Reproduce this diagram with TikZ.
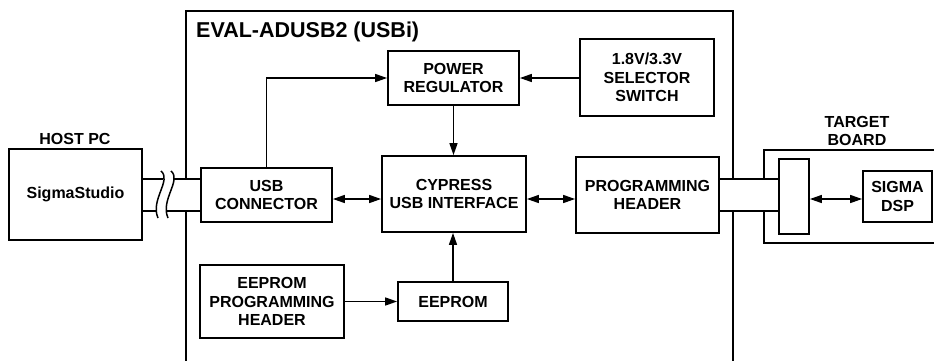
\documentclass[tikz,border=0pt]{standalone}
\usepackage{fontspec}
\setmainfont{Liberation Sans}
\usetikzlibrary{arrows.meta}
\tikzset{
  blk/.style={draw, line width=1.8pt, inner sep=0pt, align=center, font=\bfseries\fontsize{16}{18.5}\selectfont},
  lbl/.style={inner sep=0pt, align=center, font=\bfseries\fontsize{16}{18.5}\selectfont},
  conn/.style={line width=1.5pt},
  arr/.style={conn, -{Triangle[length=12pt,width=8pt]}},
  darr/.style={conn, {Triangle[length=12pt,width=8pt]}-{Triangle[length=12pt,width=8pt]}},
  frame/.style={line width=1.8pt},
  wave/.style={line width=1.5pt}
}
\begin{document}
\begin{tikzpicture}[x=1pt,y=-1pt]
\useasboundingbox (0,0) rectangle (934,360);
% frames
\draw[frame] (186,362) -- (186,11) -- (733,11) -- (733,362);
\draw[frame] (936,150) -- (764,150) -- (764,243) -- (936,243);
\node[lbl, anchor=north west, font=\bfseries\fontsize{21.5}{24}\selectfont] (title) at (196,22) {EVAL-ADUSB2 (USBi)};
\node[lbl] (hostlbl) at (75,139) {HOST PC};
\node[lbl] (targetlbl) at (857,131) {TARGET\\BOARD};
% blocks
\node[blk, minimum width=133pt, minimum height=91pt] (host) at (75.5,194.5) {SigmaStudio};
\node[blk, minimum width=131pt, minimum height=54pt] (usb) at (266.5,195) {USB\\CONNECTOR};
\node[blk, minimum width=131pt, minimum height=54pt] (power) at (453.5,78) {POWER\\REGULATOR};
\node[blk, minimum width=134pt, minimum height=77pt] (sel) at (647,77.5) {1.8V/3.3V\\SELECTOR\\SWITCH};
\node[blk, minimum width=144pt, minimum height=76pt] (cyp) at (454,194) {CYPRESS\\USB INTERFACE};
\node[blk, minimum width=143pt, minimum height=76pt] (prog) at (647.5,195) {PROGRAMMING\\HEADER};
\node[blk, minimum width=144pt, minimum height=73pt] (eph) at (272,301.5) {EEPROM\\PROGRAMMING\\HEADER};
\node[blk, minimum width=110pt, minimum height=39pt] (eep) at (453,301.5) {EEPROM};
\node[blk, minimum width=30pt, minimum height=75pt] (tconn) at (794,196.5) {};
\node[blk, minimum width=69pt, minimum height=51pt] (dsp) at (897.5,196.5) {SIGMA\\DSP};
% cables
\coordinate (cy1) at (0,179);
\coordinate (cy2) at (0,211);
\fill[white] (host.east |- cy1) rectangle (usb.west |- cy2);
\fill[white] (prog.east |- cy1) rectangle (tconn.west |- cy2);
\draw[conn] (host.east |- cy1) -- (163,179);
\draw[conn] (host.east |- cy2) -- (156,211);
\draw[conn] (173,179) -- (usb.west |- cy1);
\draw[conn] (166,211) -- (usb.west |- cy2);
\draw[wave] (161,171) .. controls (172,180) and (150,200) .. (158,218);
\draw[wave] (171,171) .. controls (182,180) and (160,200) .. (168,218);
\draw[conn] (prog.east |- cy1) -- (tconn.west |- cy1);
\draw[conn] (prog.east |- cy2) -- (tconn.west |- cy2);
% arrows
\coordinate (ay) at (0,199);
\draw[darr] (usb.east |- ay) -- (cyp.west |- ay);
\draw[darr] (cyp.east |- ay) -- (prog.west |- ay);
\draw[darr] (tconn.east |- ay) -- (dsp.west |- ay);
\draw[arr] (usb.north) |- (power.west);
\draw[arr] (sel.west |- power.east) -- (power.east);
\draw[arr] (power.south) -- (power.south |- cyp.north);
\draw[arr] (eep.north) -- (eep.north |- cyp.south);
\draw[arr] (eph.east) -- (eep.west);
\end{tikzpicture}
\end{document}
